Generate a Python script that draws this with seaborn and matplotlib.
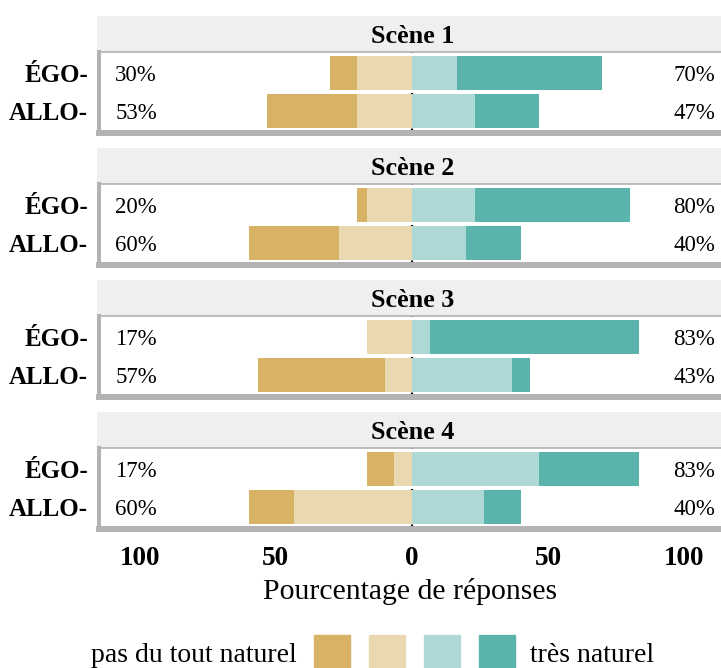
import numpy as np
import pandas as pd
import matplotlib
matplotlib.use("Agg")
import matplotlib.pyplot as plt
from matplotlib.patches import Rectangle
import seaborn as sns

# Data (percent of responses)
scenes = ["Scène 1", "Scène 2", "Scène 3", "Scène 4"]
conditions = ["ÉGO", "ALLO"]
levels = ["pas du tout naturel", "peu naturel", "assez naturel", "très naturel"]

pas_du_tout = [[10.0, 33.33], [3.33, 33.33], [0.0, 46.67], [10.0, 16.67]]
peu = [[20.0, 20.0], [16.67, 26.67], [16.67, 10.0], [6.67, 43.33]]
assez = [[16.67, 23.33], [23.33, 20.0], [6.67, 36.67], [46.67, 26.67]]
tres = [[53.33, 23.33], [56.67, 20.0], [76.67, 6.67], [36.67, 13.33]]

xticks = [-100, -50, 0, 50, 100]
xticklabels = ["100", "50", "0", "50", "100"]

colors = ["#D8B365", "#EAD8B1", "#ADD8D5", "#5AB4AC"]
strip_bg = "#EFEFEF"
border = "#B3B3B3"

sns.set_theme(style="white")
plt.rcParams["font.family"] = ["Liberation Serif", "DejaVu Serif"]
plt.rcParams["text.color"] = "black"
plt.rcParams["axes.labelcolor"] = "black"
plt.rcParams["xtick.color"] = "black"
plt.rcParams["ytick.color"] = "black"

W, H = 721, 668
fig = plt.figure(figsize=(W / 100, H / 100), dpi=100)


def fx(px):
    return px / W


def fy(px):
    return 1 - px / H


for i, scene in enumerate(scenes):
    top = 16 + i * 132
    # strip
    sax = fig.add_axes([fx(97), fy(top + 36), 1 - fx(97), 36 / H])
    sax.set_facecolor(strip_bg)
    for s in sax.spines.values():
        s.set_visible(False)
    sax.set_xticks([])
    sax.set_yticks([])
    sax.text(0.506, 0.5, scene, ha="center", va="center_baseline",
             fontsize=18.8, fontweight="bold", transform=sax.transAxes)

    # panel
    ax = fig.add_axes([fx(99), fy(top + 117), 1 - fx(99), 81 / H])
    df = pd.DataFrame({
        "cond": conditions,
        "left_dark": [-(pas_du_tout[i][k] + peu[i][k]) for k in range(2)],
        "left_light": [-peu[i][k] for k in range(2)],
        "right_dark": [assez[i][k] + tres[i][k] for k in range(2)],
        "right_light": [assez[i][k] for k in range(2)],
    })
    ax.axvline(0, color="black", lw=1.6, ls=(0, (2, 2)), zorder=0.5)
    for col, c in [("left_dark", colors[0]), ("left_light", colors[1]),
                   ("right_dark", colors[3]), ("right_light", colors[2])]:
        sns.barplot(data=df, x=col, y="cond", order=conditions, orient="h",
                    color=c, width=0.9, errorbar=None, saturation=1,
                    linewidth=0, ax=ax)

    for k in range(2):
        left_pct = pas_du_tout[i][k] + peu[i][k]
        right_pct = assez[i][k] + tres[i][k]
        ax.text(-109, k, f"{round(left_pct)}%", ha="left",
                va="center_baseline", fontsize=16.5)
        ax.text(111.5, k, f"{round(right_pct)}%", ha="right",
                va="center_baseline", fontsize=16.5)

    ax.set_xlim(-115, 113.6)
    ax.set_ylim(1.58, -0.553)
    ax.set_ylabel("")
    ax.set_xlabel("")
    ax.set_yticks([0, 1])
    ax.set_yticklabels([c + "-" for c in conditions], fontsize=18,
                       fontweight="bold", va="center_baseline")
    ax.tick_params(axis="y", length=0, pad=8)
    ax.set_xticks(xticks)
    if i == len(scenes) - 1:
        ax.set_xticklabels(xticklabels, fontsize=19.5, fontweight="bold")
        ax.tick_params(axis="x", length=0, pad=12)
        ax.set_xlabel("Pourcentage de réponses", fontsize=21.4, labelpad=5)
    else:
        ax.set_xticklabels([])
        ax.tick_params(axis="x", length=0)
    ax.spines["right"].set_visible(False)
    ax.spines["left"].set_color(border)
    ax.spines["left"].set_linewidth(2.9)
    ax.spines["bottom"].set_color(border)
    ax.spines["bottom"].set_linewidth(4.3)
    ax.spines["top"].set_color(border)
    ax.spines["top"].set_linewidth(1.2)

# legend
fig.text(fx(297), fy(655), levels[0], ha="right", va="center", fontsize=20)
for j, c in enumerate(colors):
    x0 = 314 + j * 55
    fig.patches.append(Rectangle((fx(x0), fy(671)), 36 / W, 36 / H,
                                 transform=fig.transFigure, color=c,
                                 figure=fig))
fig.text(fx(530), fy(655), levels[3], ha="left", va="center", fontsize=20)

fig.savefig("out.png", dpi=100)
